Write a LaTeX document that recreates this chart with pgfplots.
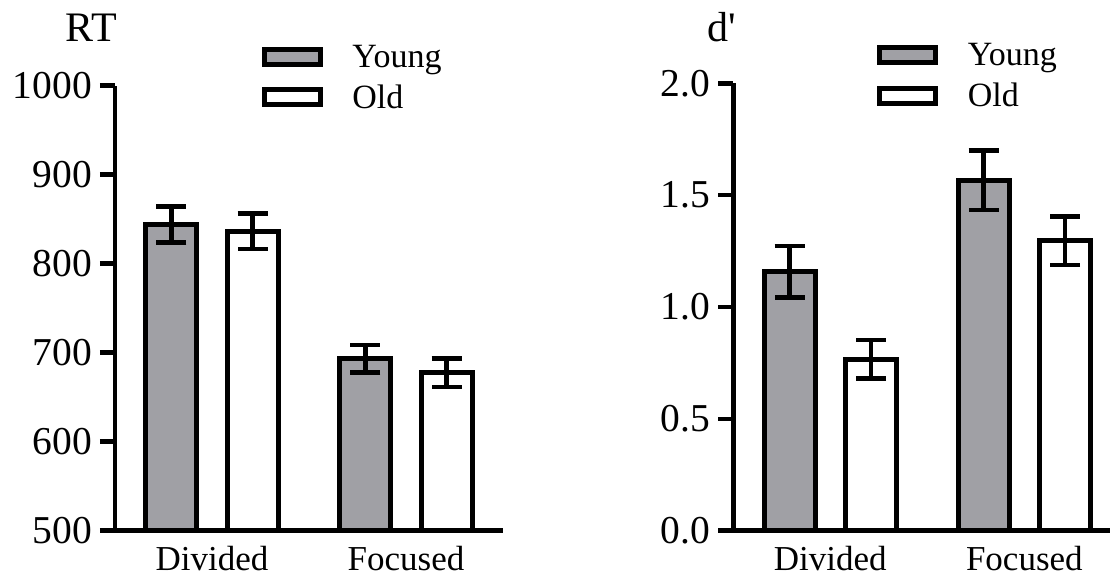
\documentclass[border=0pt]{standalone}
\usepackage{fontspec}
\setmainfont{Liberation Serif}
\usepackage{pgfplots}
\pgfplotsset{compat=1.18}
\definecolor{bargray}{RGB}{160,160,165}
\begin{document}
\begin{tikzpicture}
\pgfplotsset{
 myaxis/.style={
   scale only axis,
   anchor=south west,
   axis x line*=bottom, axis y line*=left,
   axis line style={line width=4.5pt, -},
   xmin=0.5,
   xtick={1,2}, xticklabels={Divided,Focused},
   major x tick style={draw=none},
   major y tick style={line width=4.5pt, black},
   tick align=outside,
   major tick length=15pt,
   /pgf/number format/assume math mode=true,
   /pgf/number format/1000 sep={},
   yticklabel style={font=\fontsize{39.5}{39.5}\selectfont, inner sep=0pt, xshift=-8pt},
   xticklabel style={font=\fontsize{35}{35}\selectfont, inner sep=0pt},
   ybar, bar width=51pt, bar shift=0pt,
   legend style={draw=none, fill=none, inner sep=0pt, nodes={inner sep=0pt}, row sep=16pt, column sep=29.5pt,
     font=\fontsize{34}{34}\selectfont, anchor=north west},
   legend cell align=left,
   legend image code/.code={\draw[##1,/tikz/.cd, line width=5pt] (0pt,-7.5pt) rectangle (56pt,7.5pt);},
 },
 ebar/.style={error bars/.cd, y dir=both, y explicit,
   error bar style={line width=4.5pt, black},
   error mark options={rotate=90, mark size=15pt, line width=4.5pt, black}},
}
\begin{axis}[myaxis, at={(115pt,47.3pt)}, width=388pt, height=445pt, xmax=2.5,
  ymin=500, ymax=1000, ytick={500,600,...,1000},
  legend style={at={(0.378,1.092)}}]
\addplot+[draw=black, fill=bargray, line width=5pt, ebar] coordinates {(0.79,844) +- (0,20) (1.79,693.3) +- (0,15.3)};
\addplot+[draw=black, fill=white, line width=5pt, ebar] coordinates {(1.21,836.5) +- (0,20) (2.21,677.7) +- (0,16)};
\legend{Young,Old}
\end{axis}
\begin{axis}[myaxis, at={(733.3pt,47.3pt)}, width=376.4pt, height=447.4pt, xmax=2.44,
  ymin=0, ymax=2, ytick={0,0.5,...,2},
  yticklabel={\pgfmathprintnumber[fixed,fixed zerofill,precision=1]{\tick}},
  legend style={at={(0.382,1.090)}}]
\addplot+[draw=black, fill=bargray, line width=5pt, ebar] coordinates {(0.79,1.157) +- (0,0.115) (1.79,1.566) +- (0,0.133)};
\addplot+[draw=black, fill=white, line width=5pt, ebar] coordinates {(1.21,0.767) +- (0,0.086) (2.21,1.296) +- (0,0.108)};
\legend{Young,Old}
\end{axis}
\node[anchor=base, font=\fontsize{42}{42}\selectfont, inner sep=0pt] at (91.5pt,536pt) {RT};
\node[anchor=base, font=\fontsize{42}{42}\selectfont, inner sep=0pt] at (722pt,536pt) {d\textquotesingle};
\pgfresetboundingbox
\useasboundingbox (0pt,0pt) rectangle (1110pt,578pt);
\end{tikzpicture}
\end{document}
